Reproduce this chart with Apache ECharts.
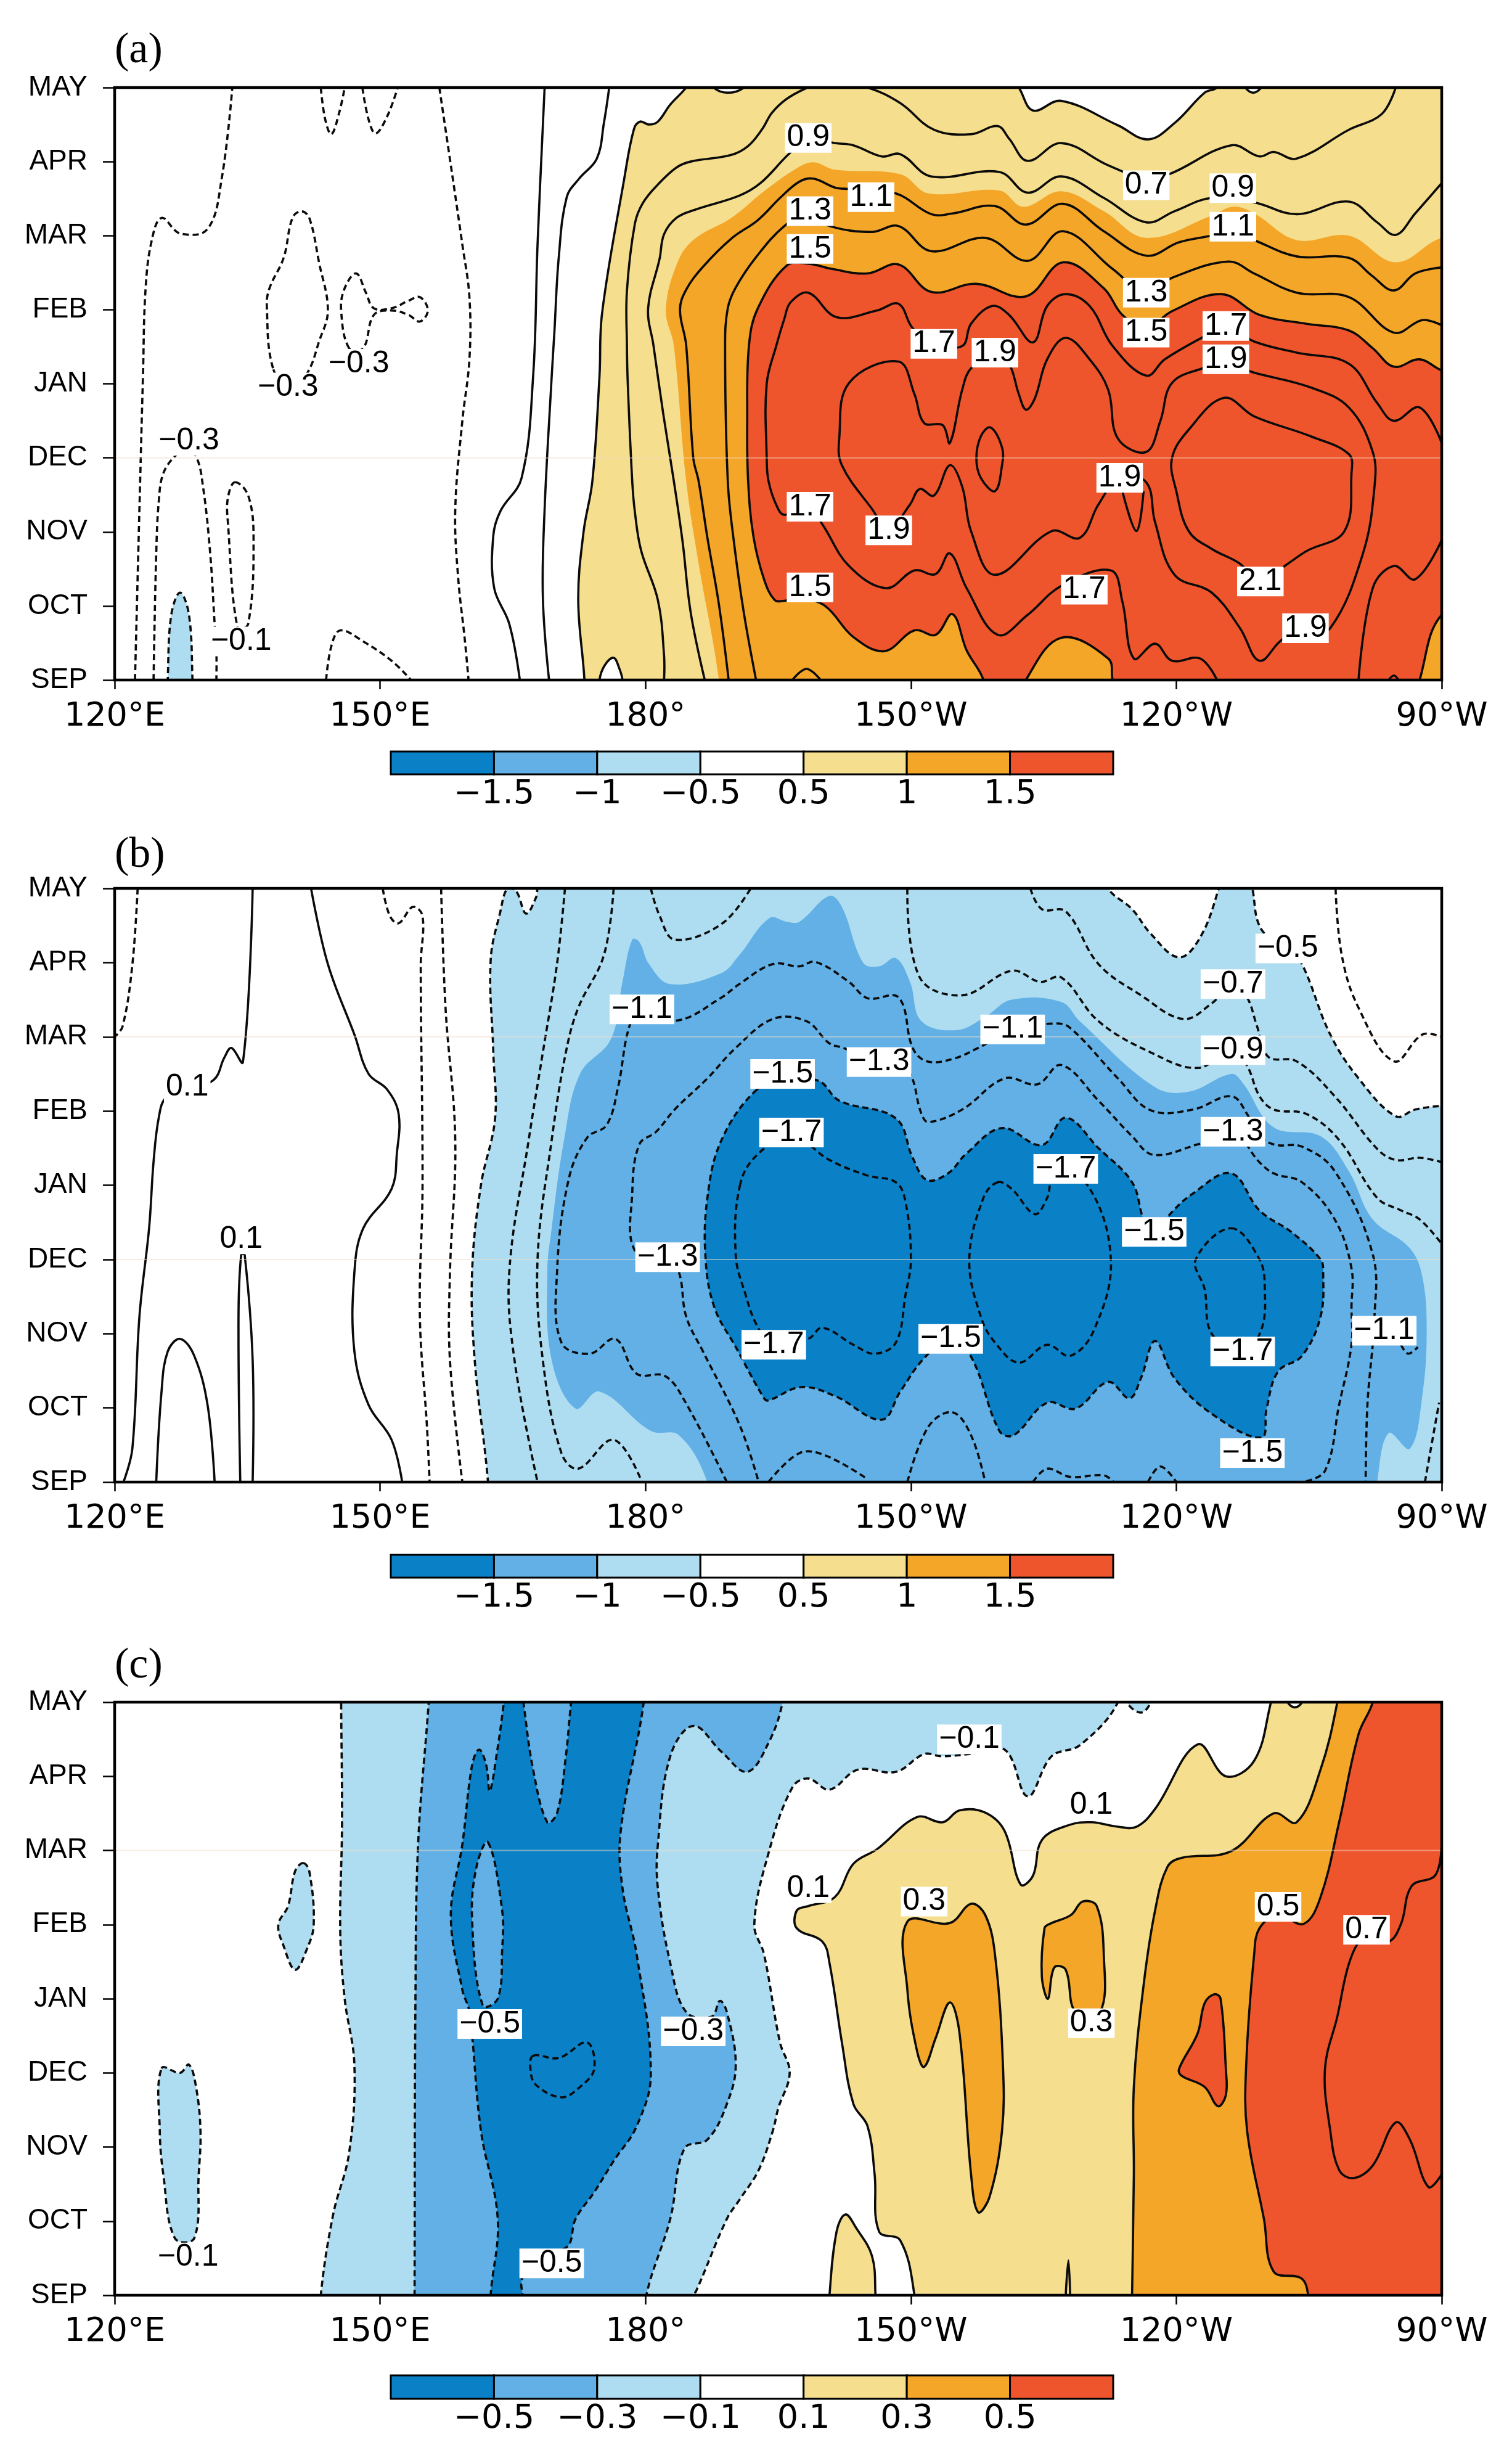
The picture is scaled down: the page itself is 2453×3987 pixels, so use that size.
<!DOCTYPE html>
<html><head><meta charset="utf-8">
<script src="https://cdn.jsdelivr.net/npm/echarts@6/dist/echarts.min.js"></script>
<style>html,body{margin:0;background:#fff}#c{width:2453px;height:3987px}</style></head>
<body><div id="c"></div>
<script>
// ---- tick labels
const xTickLabels=['120°E','150°E','180°','150°W','120°W','90°W'];
const yTickLabels=['SEP','OCT','NOV','DEC','JAN','FEB','MAR','APR','MAY'];
const legendAB=['','−1.5','−1','−0.5','0.5','1','1.5',''];
const legendC=['','−0.5','−0.3','−0.1','0.1','0.3','0.5',''];
// ---- contour data: [longitude in degrees east, months since SEP]
// PANEL A
const aYellow=[[173.1,-.4],[173.1,0],[172.4,1.08],[173,2],[174,2.69],[174.8,4.1],[175.1,4.96],[177.6,6.77],[178.7,7.44],[179.4,7.54],[180.4,7.5],[181.4,7.54],[182.8,7.77],[184.6,8],[185.6,8.2],[186.8,8.2],[187.7,8],[189.3,7.93],[191.1,8],[192,8.2],[221,8.2],[222.2,8],[223.8,7.69],[227,7.82],[233.4,7.49],[236.8,7.3],[239.8,7.52],[243.2,7.93],[244.6,8],[245.5,8.2],[247,8.2],[247.8,8],[248.7,7.93],[249.6,8],[250.5,8.2],[275,8.4],[275,-.4]];
const aHole=[[174.8,-.3],[174.8,0],[175.4,.2],[176.4,.3],[177,.17],[177.4,0],[177.4,-.3]];
const aOrange=[[188.3,-.5],[188.3,0],[186,1.58],[184.6,2.69],[183.2,4.52],[182.3,5],[183.7,5.66],[185.6,5.96],[189.7,6.24],[193.4,6.6],[197.1,6.91],[199,6.99],[201.4,6.89],[208.8,6.83],[212,6.57],[220,6.61],[222.7,6.39],[227,6.6],[231.8,6.33],[236.6,5.97],[244,6.27],[246.4,6.39],[248.8,6.3],[253.6,5.94],[259.5,6],[264.8,5.64],[270,5.97],[275,6],[275,-.5]];
const aRed=[[218.2,-.3],[218.2,0],[216.3,.4],[214.7,.89],[212.8,.61],[210.4,.67],[207,.39],[203.5,.58],[200.3,1],[197.5,1.1],[195.7,1.07],[194.6,1.08],[193.4,1.36],[192.2,1.94],[191.6,2.69],[191.5,3.5],[191.7,4.52],[192.7,5.02],[196,5.6],[198.5,5.62],[201.1,5.55],[205.1,5.49],[208.6,5.61],[212.3,5.24],[217.4,5.35],[223,5.18],[227.2,5.64],[231.8,5.29],[233.9,4.93],[236.6,4.75],[239.5,4.98],[245.1,5.21],[249.4,4.93],[254.7,4.81],[259.5,4.72],[262.2,4.48],[264.6,4.23],[267.5,4.33],[270,4.18],[275,4],[275,1],[270,.88],[267.5,0],[267,-.3],[233.5,-.3],[232.8,0],[232.3,.29],[227,.57],[223,0],[222.5,-.3]];
const aBlue=[[126,-.3],[126,0],[126.4,.88],[127.4,1.18],[128.4,.88],[128.8,0],[128.8,-.3]];
const aNeg1=[[122.3,0],[122.8,2.31],[123.2,4.1],[123.5,5.29],[124.2,5.94],[125.3,6.24],[127.4,6.03],[130.5,6.09],[132.1,6.77],[133.3,8]];
const aNeg2=[[124.4,0],[124.7,1.71],[125,2.43],[125.5,2.79],[126.8,3.02],[128,3.1],[129.2,3.02],[130,2.6],[130.8,1.71],[131.3,.76],[131.5,.4],[131.5,0]];
const aNeg3=[[133.6,2.67],[135.1,2.49],[135.7,1.89],[135.1,.76],[133.9,.7],[132.8,2.13],[132.8,2.46]];
const aNeg4=[[137.9,4.21],[137.2,5.05],[137.5,5.29],[139.1,5.7],[140.1,6.24],[141.1,6.33],[142,6.24],[143.1,5.64],[144.1,4.99],[143.1,4.57],[141.8,4.15],[139.9,3.92]];
const aNeg5=[[146.5,4.48],[145.6,4.99],[146,5.29],[147.3,5.49],[148.4,5.23],[149.3,5.02],[151.3,5.02],[153.2,5.12],[154.5,5.17],[155.4,4.99],[154.5,4.84],[153.2,4.93],[151.3,4.99],[149.3,4.93],[148.1,4.48]];
const aNeg6=[[143.3,8],[143.8,7.57],[144.5,7.37],[145.4,7.67],[146,8]];
const aNeg7=[[148,8],[148.7,7.57],[149.5,7.38],[150.8,7.61],[152,8]];
const aNeg8=[[156.7,8],[158,6.95],[159.3,5.88],[160.1,5.17],[160.1,4.33],[159.3,3.5],[158.5,2.31],[158.8,1.42],[159.6,.52],[160,0]];
const aNeg9=[[143.9,0],[144.5,.46],[145.5,.67],[148.1,.52],[151.3,.26],[153.5,0]];
const aP01=[[168.6,8],[167.8,5.88],[167.3,4.1],[166,2.73],[163.6,2.28],[162.8,1.95],[162.9,1.24],[164.6,.76],[165.8,0]];
const aP03=[[169.1,0],[168.4,1.12],[168.6,2.31],[169.4,4.1],[169.7,4.69],[170.2,5.71],[171.1,6.52],[172.5,6.77],[174.5,7.04],[175.3,7.52],[175.9,8]];
const aP07=[[182.1,0],[182.1,.33],[181.4,1.08],[179.5,1.75],[178.8,2.27],[178.5,2.69],[178,4],[177.9,4.52],[177.9,5.25],[178.8,6.16],[179.7,6.44],[181.4,6.69],[183.5,6.92],[185.1,7],[189.7,7.09],[191.6,7.21],[193.2,7.44],[194.3,7.66],[196,7.85],[198.3,8],[200.5,8.1],[205.1,8],[208.8,7.79],[212.6,7.43],[216.8,7.37],[219.8,7.48],[221.1,7.31],[223.2,7.01],[227,7.25],[232.3,6.95],[236.6,6.77],[239.2,6.83],[246.2,7.22],[249.4,7.07],[251,7.13],[253.6,7.04],[259.5,7.43],[263.2,7.64],[264.8,8]];
const aP09=[[186.7,0],[185.1,.92],[184.2,1.86],[183.2,2.69],[182,3.6],[180.9,4.52],[180.3,5.02],[181.6,5.69],[182.1,6.02],[183.5,6.24],[185.6,6.35],[190.6,6.54],[193,6.71],[196.1,7.09],[198.4,7.32],[201.4,7.25],[203.5,7.22],[206.7,7.07],[208.8,7.1],[212.3,6.8],[220,6.86],[223.2,6.58],[227,6.8],[231.8,6.51],[236.6,6.18],[239.8,6.33],[244,6.51],[248.8,6.45],[253.6,6.29],[259.5,6.46],[262.7,6.18],[264.8,6.01],[267,6.3],[270,6.71]];
const aP11=[[189.4,0],[188.3,1.02],[187,1.92],[186,2.69],[185.4,3],[184.6,4.52],[183.9,5],[184.6,5.27],[186.5,5.58],[189.7,5.96],[192.7,6.21],[195.3,6.52],[197.4,6.73],[199,6.77],[201.4,6.65],[203,6.63],[208.3,6.57],[212.3,6.29],[214.7,6.3],[219.5,6.4],[223,6.15],[227.2,6.43],[231.8,6.06],[236.6,5.73],[240.3,5.91],[244,6],[246.4,6.06],[248.8,5.94],[253.6,5.72],[259.5,5.7],[262.1,5.46],[264.6,5.26],[267,5.49],[270,5.57]];
const aP13=[[192.5,0],[191.1,.92],[190,1.86],[189.3,2.69],[189,4.52],[189.3,5.02],[190.2,5.3],[192.5,5.71],[195.7,6.13],[198.4,6.3],[200.8,6.13],[205.6,6.05],[208.6,6.13],[212.3,5.79],[218.4,5.97],[223.2,5.66],[227.2,6.06],[232.8,5.55],[236.6,5.23],[239.5,5.43],[245.9,5.65],[248.8,5.49],[253.6,5.23],[259.5,5.17],[264.6,4.69],[267.8,4.86],[270,4.79]];
const aP13b=[[196.6,0],[198.2,.15],[199.8,0]];
const aP17=[[244.6,0],[242.7,.29],[239.5,.26],[237.6,.49],[235.2,.29],[233.9,1.06],[232.6,1.48],[227,1.27],[223.2,.88],[219.8,.61],[216.3,1.24],[214.4,1.71],[212.8,1.43],[210.4,1.48],[207.2,1.24],[203,1.54],[200,2.1],[198.4,2.34],[195.7,2.23],[194.8,2.36],[193.9,2.69],[193.7,3],[193.7,4],[194.8,4.52],[195.7,4.88],[196.4,5.1],[198.4,5.23],[201.6,4.9],[206.2,4.99],[208.6,5.08],[210.2,4.75],[212.6,4.54],[215.8,4.51],[216.8,4.81],[219.2,5.05],[221.1,4.93],[223.8,4.56],[225.4,5.05],[227.5,5.21],[230.2,5.05],[232.8,4.51],[236.6,4.11],[238.7,4.33],[243,4.63],[245.6,4.78],[248.8,4.57],[253.6,4.42],[259.5,4.27],[262.7,3.74],[264.6,3.5],[267.5,3.68],[270,3.2]];
const aP17b=[[260.6,0],[262.2,1.24],[264.6,1.54],[267,1.36],[270,1.89]];
const aP17c=[[264,0],[264.6,.06],[265.1,0]];
const aP19=[[245.6,4.27],[248.8,4.15],[255.2,3.95],[259.5,3.68],[262.2,3.08],[262.4,2.61],[261.1,1.71],[257.4,.7],[254.7,.67],[252,.55],[249.4,.26],[247.2,.7],[244,1.18],[239.8,1.42],[237.6,2.13],[236.6,2.67],[233.6,2.73],[231.2,2.37],[229.1,1.92],[225.9,2.01],[219.5,1.42],[216.8,2.01],[215.8,2.61],[214.4,2.9],[212.6,2.49],[211,2.58],[209.9,2.37],[207.5,2.04],[205.6,2.31],[202.2,2.9],[201.9,3.26],[203,4.01],[208.6,4.3],[210.4,3.86],[211.5,3.47],[213.6,3.44],[214.4,3.2],[215.8,3.92],[216.8,4.21],[219.5,4.42],[221.1,4.27],[222.2,3.86],[223,3.65],[224,3.8],[225.4,4.33],[227.5,4.62],[230.2,4.33],[232.3,3.92],[233.4,3.26],[236.6,3.08],[238.2,3.5],[239.5,4.01],[243,4.21]];
const aP19b=[[233.9,2.55],[235.5,2.01],[236.3,2.55]];
const aP21=[[245.4,3.81],[248.8,3.56],[255.2,3.29],[259.5,3.05],[259.8,2.79],[259,2.01],[254.7,1.74],[252.6,1.57],[249.4,1.33],[247.2,1.57],[244,1.77],[241.4,2.01],[240,2.55],[239.5,2.99],[241.4,3.38]];
const aP21b=[[219,3.41],[220.3,3.14],[220.3,2.9],[219.5,2.55],[217.9,2.73],[217.4,2.99],[217.9,3.29]];
const aLabels=[[198.4,7.32,'0.9'],[198.6,6.33,'1.3'],[198.6,5.82,'1.5'],[205.5,6.52,'1.1'],[236.6,6.68,'0.7'],[246.4,6.64,'0.9'],[246.4,6.12,'1.1'],[236.6,5.23,'1.3'],[236.6,4.69,'1.5'],[245.6,4.78,'1.7'],[245.6,4.33,'1.9'],[212.6,4.54,'1.7'],[219.5,4.42,'1.9'],[198.6,2.34,'1.7'],[207.5,2.02,'1.9'],[233.6,2.73,'1.9'],[198.6,1.25,'1.5'],[229.6,1.22,'1.7'],[249.5,1.33,'2.1'],[254.6,.7,'1.9'],[128.4,3.23,'−0.3'],[139.6,3.95,'−0.3'],[147.6,4.27,'−0.3'],[134.3,.52,'−0.1']];
// PANEL B
const bLight=[[162.2,-.5],[162.2,0],[160.7,1.64],[160.4,2.82],[161.4,4],[163,4.9],[162.8,5.79],[162.5,7.03],[163.6,7.69],[164.4,8],[165.4,7.96],[166.5,7.66],[167.6,7.87],[167.8,8],[168.5,8.4],[231.5,8.4],[232.3,8],[235,7.72],[237.1,7.39],[240.3,7.07],[242.7,7.34],[244.8,8],[245.5,8.4],[248,8.4],[248.6,8],[249.6,7.45],[252.6,7.19],[254.2,6.98],[257.4,6.03],[260.6,5.44],[264.8,4.93],[267,5.02],[270,5.07],[275,5.1],[275,-.5]];
const bMedium=[[187,-.4],[187,0],[183.8,.63],[180.6,.69],[174.8,1.22],[172.1,.99],[169.4,1.64],[168.9,2.82],[169.4,3.42],[170.8,4.61],[172.6,5.5],[176.1,5.97],[177.4,6.74],[178.5,7.31],[179.3,7.28],[180.4,6.98],[182.8,6.71],[188.6,6.86],[190.6,7.1],[194,7.6],[196,7.55],[197.4,7.55],[200.8,7.9],[202.2,7.75],[204.6,7],[206.4,6.95],[208.3,7.06],[209.9,6.74],[211.2,6.21],[215.2,6.09],[218.4,6.27],[221.4,6.5],[227,6.47],[229.1,6.21],[237.6,5.32],[241.4,5.26],[246.2,5.5],[247.5,5.38],[251,4.78],[256.3,4.66],[259.5,4.19],[262.2,3.54],[266.4,3.15],[267.8,2.77],[268.3,2.05],[267.8,1.16],[266.4,.45],[264,.66],[262.7,0],[262.5,-.4]];
const bDark=[[192.6,5.29],[188.6,4.61],[187,3.83],[186.8,3],[187.8,2.35],[190.2,1.82],[193.4,1.13],[193.9,1.1],[197.6,1.28],[201.4,1.16],[206.7,.84],[208.8,1.22],[211.5,1.67],[214.4,1.93],[216.8,1.69],[220,.69],[221.6,.63],[225.4,1.07],[228.6,.99],[232.3,1.35],[234.7,1.13],[236,1.4],[237.6,1.9],[239.8,1.4],[244,.92],[249.6,.6],[250.2,.99],[251.5,1.49],[254.2,1.7],[256.3,2.23],[256.6,2.82],[256.3,3],[253.1,3.36],[249.4,3.66],[246.2,4.16],[241.9,3.89],[239,3.57],[237.6,3.3],[236.3,3.54],[235,4.04],[231.2,4.5],[227.5,4.91],[224.8,4.54],[220.3,4.77],[216.3,4.43],[214.2,4.16],[211.8,4.07],[210.2,4.37],[208.3,4.9],[201.9,5.14],[199.5,5.41],[195.5,5.38]];
const bP01a=[[121,0],[122,.45],[122.8,2.23],[123.9,3.43],[124.4,4.32],[125,4.92],[125.8,5.18],[128.2,5.3],[131.2,5.42],[132.4,5.72],[133.2,5.85],[134.5,5.66],[135.6,8]];
const bP01b=[[124.7,0],[125.3,1.22],[126,1.76],[127.4,1.93],[129,1.7],[130.5,1.04],[131.3,0]];
const bP01c=[[134.2,0],[134,2.23],[134.3,3.06],[134.7,3.06],[135.6,1.64],[135.6,0]];
const bP01d=[[142.2,8],[144.1,6.98],[147.1,6.03],[148.7,5.5],[150.8,5.29],[152.1,4.96],[151.9,4.43],[151.3,3.95],[148.1,3.42],[147.1,2.83],[147.1,1.76],[148.7,1.04],[151.3,.57],[152.5,0]];
const bN1=[[122.6,8],[122,6.97],[120.9,6.14],[120,6]];
const bN2=[[150.3,8],[151.1,7.63],[152.1,7.53],[153.7,7.75],[154.8,7.63],[154.6,6.97],[154.8,4],[154.5,2.23],[155.3,.75],[155.6,0]];
const bN3=[[156.9,8],[157.4,6.39],[158.5,4.6],[157.9,2.82],[157.9,1.64],[159.3,0]];
const bN07a=[[170.9,8],[170,6.98],[168.4,5.79],[166.8,4.61],[164.6,2.82],[165.2,1.64],[167.8,0]];
const bN09a=[[176.4,8],[175.3,7.1],[172.4,6.39],[171,5.79],[169.4,4.61],[167.8,3],[168.4,1.64],[170.5,.39],[172.4,.18],[176.4,.57],[179.6,0]];
const bN09b=[[180.6,8],[181.6,7.63],[183.3,7.31],[188.6,7.52],[191.9,8]];
const bN09c=[[209.6,8],[211,6.8],[215.8,6.56],[221.4,6.89],[224.6,6.74],[227,6.8],[231.2,6.21],[237.1,5.79],[242.4,5.58],[246.4,5.82],[248,5.61],[249.4,5.2],[251,5.02],[254.7,4.96],[258.4,4.61],[262.7,3.83],[265.4,3.66],[267.5,3.54],[270,3.21]];
const bN07b=[[223.5,8],[224.8,7.72],[227.5,7.69],[231.2,6.98],[236,6.56],[240.8,6.24],[244,6.45],[246.4,6.71],[248,6.53],[249.1,6.15],[250.4,5.73],[253.6,5.67],[257.9,5.2],[262.7,4.49],[264.8,4.34],[267.5,4.37],[270,4.31]];
const bN03=[[258,8],[258.7,7.1],[260.6,6.39],[264.6,5.67],[267.8,6.03],[270,6]];
const bN11=[[189.2,0],[184.4,1.1],[182.2,1.43],[179,1.46],[176.6,1.93],[173.7,1.73],[170.5,1.88],[170,2.82],[171.3,4.07],[173.4,4.64],[175.6,4.81],[176.9,5.32],[178.2,6.15],[179.6,6.36],[183.6,6.22],[188.6,6.53],[190.6,6.71],[194.4,6.98],[197.4,6.95],[199.2,7.01],[203,6.74],[205.1,6.52],[208.6,6.53],[210.2,5.85],[211.8,5.67],[214.7,5.7],[217.6,5.85],[221.6,6.09],[226.2,6.18],[228,6.12],[233.4,5.44],[237.1,5.01],[241.9,5.02],[246.2,5.2],[248,4.96],[248.8,4.73],[251,4.55],[254.2,4.52],[257.9,4.19],[262.2,3.07],[262.4,2.23],[261.6,1.04],[261.4,0]];
const bN13=[[192.7,.04],[190.6,.78],[186.5,1.76],[184.6,2.23],[183.8,2.82],[182.5,3.03],[178.8,3.12],[178.5,3.89],[179.3,4.55],[181.2,4.72],[183.3,5.02],[187,5.44],[190.2,5.85],[194.4,6.24],[198.2,6.21],[200.8,5.91],[202.4,5.85],[206.4,5.64],[209.6,5.55],[211.2,4.96],[212,4.85],[215.8,5.02],[220.6,5.44],[224.3,5.36],[227,5.62],[231.2,5.14],[235,4.66],[237.4,4.41],[242.4,4.55],[246.4,4.71],[249.4,4.31],[251,4.16],[254.2,4.04],[257.9,3.54],[259.8,2.88],[259.8,2.35],[259.8,1.85],[258.4,1.04],[256.8,.15],[254.2,0]];
const bH1=[[193.9,0],[197.4,.39],[200.3,.36],[205.1,.04]];
const bH2=[[209.6,0],[212,.75],[214.7,.94],[216.8,.63],[218.4,0]];
const bH3=[[223.8,0],[225.4,.18],[228,.07],[231.8,.09],[232.9,0]];
const bH4=[[236.8,0],[238.2,.21],[240,0]];
const bH5=[[268.1,0],[269.7,1.07]];
const bH6=[[265.4,1.85],[266.2,1.73],[267.3,1.82]];
const bN17a=[[190.7,4.01],[190.2,3.06],[191.3,2.53],[192.6,2.11],[194.4,1.85],[198.4,1.93],[200,2.08],[203.5,1.85],[205.9,1.73],[208.3,1.88],[209.4,2.53],[210,3],[209.4,3.77],[208.3,4.04],[205.1,4.13],[200.8,4.34],[196.6,4.66],[192.8,4.43]];
const bN17b=[[219.8,4.04],[221.4,3.95],[224,3.61],[225.4,3.83],[226.2,4.13],[229.9,4.01],[232.6,3],[230.7,2.05],[228,1.7],[225.4,1.85],[222.2,1.61],[219.5,1.88],[217.9,2.23],[216.6,3],[218.2,3.83]];
const bN17c=[[246.2,3.42],[249.4,3],[250,2.6],[249.6,2.05],[247.5,1.76],[244,2],[243.2,2.6],[242.2,3]];
const bLabels=[[128.2,5.32,'0.1'],[134.3,3.27,'0.1'],[179.6,6.37,'−1.1'],[182.5,3.03,'−1.3'],[195.5,5.5,'−1.5'],[196.5,4.71,'−1.7'],[194.5,1.85,'−1.7'],[206.4,5.66,'−1.3'],[221.5,6.1,'−1.1'],[227.5,4.22,'−1.7'],[237.5,3.37,'−1.5'],[214.5,1.93,'−1.5'],[247.5,1.76,'−1.7'],[248.6,.39,'−1.5'],[263.5,2.04,'−1.1'],[252.6,7.19,'−0.5'],[246.4,6.71,'−0.7'],[246.4,5.82,'−0.9'],[246.4,4.72,'−1.3']];
// PANEL C
const cLight=[[143.3,-.5],[143.3,0],[144.7,1.09],[146.5,1.92],[147.1,3.1],[146,4],[145.5,4.9],[145.7,6.37],[145.6,8],[145.6,8.5],[233.6,8.5],[233.4,8],[229.1,7.42],[225.9,7.27],[223.2,6.73],[220.6,7.36],[216.6,7.3],[213.4,7.27],[211.5,7.3],[208.3,7.06],[204,7.09],[200.8,6.82],[198.4,6.97],[196.6,6.85],[193.9,5.96],[192.3,5],[193.4,4.6],[195.2,3.41],[196.3,3],[195,2.52],[194.4,2.22],[192.8,1.69],[190.7,1.3],[189.2,1.03],[185.7,.05],[185.3,0],[185.2,-.5]];
const cLightNotch=[[234.4,8.2],[234.4,8],[236,7.86],[237.1,8],[237.1,8.2]];
const cLobe1=[[141.3,5.83],[142,5.72],[142.5,5],[141.7,4.66],[140.4,4.39],[139.1,4.71],[138.5,5],[139.6,5.25],[140.4,5.72]];
const cLobe2=[[125.3,3.06],[127.4,3],[128.4,3.11],[129.2,2.81],[129.7,2.22],[129.5,1.63],[129,.77],[126.8,.77],[125.5,1.63],[125.1,2.22]];
const cMedium=[[153.9,-.5],[153.9,0],[154,4],[154.3,6.08],[155.5,8],[155.7,8.5],[195.8,8.5],[195.5,8],[193.9,7.45],[191.5,7.06],[188.6,7.33],[185.4,7.68],[182.8,7.27],[181.4,6.08],[181.4,5.49],[182.8,4.48],[184.6,3.82],[187.5,3.76],[188.4,3.97],[189.2,3.82],[190.2,3.11],[189.2,2.58],[187,2.1],[184.4,1.98],[182.8,1.03],[180.1,0],[180,-.5]];
const cDark=[[162.5,-.4],[162.5,0],[163.3,1.03],[161.4,2.22],[160.1,3.82],[159.3,4.12],[158,5.13],[159.3,6.08],[160.4,7.15],[161.2,7.36],[162,7.15],[162.4,6.8],[163.3,7.39],[164,8],[164.3,8.3],[165.9,8.3],[166.2,8],[167.3,7.09],[168.9,6.38],[170,6.5],[171,7.27],[171.6,8],[172,8.3],[179.5,8.3],[179.8,8],[177.2,6.26],[177.4,5.49],[179,4.6],[180.6,2.99],[179,2.28],[176.4,1.81],[174.2,1.39],[172.1,1.03],[171.1,.65],[167.3,.56],[166,.2],[166.1,0],[166.1,-.4]];
const cLens=[[162.2,6.11],[163.8,5.19],[163.8,4.66],[163.3,4],[161.6,3.91],[160.4,5.07],[160.9,5.78]];
const cHeart=[[167.3,3.23],[170.2,3.2],[173.4,3.41],[174.2,3.05],[172.6,2.81],[170.5,2.67],[167.6,2.84],[167,3.05]];
const cYellow=[[210.4,-.5],[210.4,0],[208.8,.74],[206.4,.86],[205.9,1.63],[205.1,2.28],[203.5,2.58],[202.2,3.41],[200.8,4.48],[200,4.77],[197.1,4.95],[197.1,5.19],[198.4,5.25],[201.4,5.37],[203.5,5.82],[206.2,6.02],[210.7,6.45],[213.6,6.38],[215.5,6.54],[218.4,6.51],[220.6,6.26],[222.4,5.54],[223.8,5.66],[224.8,6.14],[227.8,6.34],[230.4,6.38],[233.4,6.32],[235.5,6.32],[237.6,6.56],[242.4,7.43],[245.6,7],[248.8,7.21],[250.7,8],[251.2,8.3],[252.2,8.3],[252.6,8],[253.4,7.93],[254.2,8],[254.8,8.3],[275,8.5],[275,-.5]];
const cYellow2=[[200.8,-.3],[200.8,0],[201.6,.86],[202.6,1.09],[203.8,.91],[205.6,.53],[206,0],[206,-.3]];
const cOrangeA=[[209.6,5.04],[209.6,4.12],[210.7,3.29],[211.5,3.08],[212.8,3.47],[214.4,3.95],[215.5,3.53],[216.8,1.63],[217.6,1.12],[218.9,1.33],[220.3,2.22],[220.4,3.11],[219.5,4.6],[218.4,5.13],[216.8,5.28],[214.4,5.02]];
const cOrangeB=[[225.1,4.95],[224.8,4.3],[225.5,4],[226.2,4.42],[227.5,4.39],[228.6,3.82],[231.4,3.82],[231.8,4.6],[231,5.25],[229.4,5.31],[228.1,5.13],[225.7,5.01]];
const cOrange=[[235,-.4],[235,0],[235.2,1.63],[235.2,2.81],[236.3,4.18],[237.6,5.19],[239,5.78],[240.6,5.9],[246.2,5.99],[251,6.5],[253.6,6.38],[256.3,7.09],[258.2,8],[258.5,8.4],[275,8.5],[275,-.4]];
const cRed=[[254.9,-.4],[254.9,0],[254.1,.23],[251,.32],[249.9,1.03],[248,2.22],[247.9,3.11],[248.8,4.6],[249.4,4.95],[251.5,5.13],[254.4,5.01],[256.3,5.37],[258.4,6.38],[260.6,7.57],[262.2,8],[262.5,8.4],[275,8.5],[275,-.4]];
const cRedIsland=[[244.3,4.06],[245,4],[245.6,3.05],[245.6,2.7],[244.7,2.55],[243.2,2.81],[240.6,2.96],[240.3,3.05],[242.4,3.53],[243.2,3.94]];
const cP07=[[270,6.14],[269.3,5.67],[266.6,5.52],[265.4,5.01],[264,4.77],[261.5,4.85],[259.7,4.54],[258.2,3.76],[256.8,3.05],[257.4,2.22],[258.4,1.69],[260,1.58],[262.2,1.75],[264.8,2.33],[266.4,2.1],[268.5,1.46],[270,1.63]];
const cSpike=[[227.5,0],[227.8,.47],[228,0]];
const cLabels=[[128.3,.51,'−0.1'],[162.4,3.66,'−0.5'],[185.4,3.56,'−0.3'],[169.4,.43,'−0.5'],[216.6,7.5,'−0.1'],[230.4,6.61,'0.1'],[198.4,5.49,'0.1'],[211.5,5.31,'0.3'],[230.4,3.67,'0.3'],[251.5,5.24,'0.5'],[261.5,4.93,'0.7']];
// faint horizontal rules in each panel, at these month positions
const aRules=[3], bRules=[3,6], cRules=[6];

// ---- styles
const BLUE3='#0a80c7',BLUE2='#62b0e5',BLUE1='#aeddf1',YEL='#f5de8d',ORG='#f4a628',RED='#ee552c';
const barColors=[BLUE3,BLUE2,BLUE1,'#ffffff',YEL,ORG,RED];
const SM=0.38, LW=3.6, DASH=[10,6];
const AXIS_FONT='"DejaVu Sans"', MONTH_FONT='"Liberation Sans"';

function drawStyle(kind,fill){
  const s={fill:fill||'none'};
  if(kind){s.stroke='#0b0b0b';s.lineWidth=LW;if(kind==='dash')s.lineDash=DASH;}
  return s;
}
function shapeSeries(g,pts,type,fill,kind,z){
  return {type:'custom',xAxisIndex:g,yAxisIndex:g,coordinateSystem:'cartesian2d',clip:true,silent:true,animation:false,z:z,
    encode:{x:0,y:1},data:pts,
    renderItem(params,api){
      if(params.dataIndex!==0)return null;
      return {type:type,shape:{points:pts.map(p=>api.coord(p)),smooth:SM},style:drawStyle(kind,fill)};
    }};
}
const poly=(g,pts,fill,kind)=>shapeSeries(g,pts,'polygon',fill,kind,2);
const line=(g,pts,kind)=>shapeSeries(g,pts,'polyline',null,kind,3);
const loop=(g,pts,kind)=>shapeSeries(g,pts,'polygon',null,kind,3);

function labelSeries(g,labels){
  return {type:'scatter',xAxisIndex:g,yAxisIndex:g,symbol:'circle',symbolSize:1,itemStyle:{color:'rgba(0,0,0,0)',opacity:1},silent:true,z:5,animation:false,
    data:labels.map(l=>({value:[l[0],l[1]],name:l[2]})),
    label:{show:true,position:'inside',formatter:'{b}',fontFamily:'"Liberation Sans"',fontSize:50,color:'#000',opacity:1,backgroundColor:'#fff',padding:[1,3,0,3],lineHeight:47},
    labelLayout:{hideOverlap:false}};
}
function ruleSeries(g,rows){
  return rows.map(r=>({type:'line',xAxisIndex:g,yAxisIndex:g,data:[[120,r],[270,r]],symbol:'none',silent:true,animation:false,z:4,
    lineStyle:{color:'rgba(240,220,200,0.5)',width:2}}));
}
function frameSeries(g){
  return {type:'custom',xAxisIndex:g,yAxisIndex:g,silent:true,animation:false,z:6,encode:{x:0,y:1},data:[[120,0]],
    renderItem(p,api){const a=api.coord([120,8]),b=api.coord([270,0]);
      return {type:'rect',shape:{x:a[0],y:a[1],width:b[0]-a[0],height:b[1]-a[1]},style:{fill:'none',stroke:'#000',lineWidth:4.5}};}};
}
function barSeries(g){
  return {type:'custom',xAxisIndex:g,yAxisIndex:g,silent:true,animation:false,z:3,encode:{x:0,y:1},data:barColors.map((c,i)=>[i,1]),
    renderItem(p,api){const i=api.value(0),a=api.coord([i,1]),b=api.coord([i+1,0]);
      return {type:'rect',shape:{x:a[0],y:a[1],width:b[0]-a[0],height:b[1]-a[1]},style:{fill:barColors[i],stroke:'#000',lineWidth:3}};}};
}
const plots=[{top:142,h:961},{top:1441,h:963},{top:2761,h:962}];
const bars=[{top:1219,h:37,l:legendAB},{top:2522,h:37,l:legendAB},{top:3853,h:38,l:legendC}];
const grids=[],xs=[],ys=[];
plots.forEach(p=>{
  grids.push({left:186,top:p.top,width:2153,height:p.h});
  xs.push({type:'value',gridIndex:grids.length-1,min:120,max:270,interval:30,z:7,splitLine:{show:false},
    axisLine:{show:false},axisTick:{show:true,length:15,lineStyle:{color:'#000',width:2.5}},
    axisLabel:{margin:33,fontFamily:AXIS_FONT,fontSize:54,color:'#000',formatter:v=>xTickLabels[(v-120)/30]}});
  ys.push({type:'value',gridIndex:grids.length-1,min:0,max:8,interval:1,z:7,splitLine:{show:false},
    axisLine:{show:false},axisTick:{show:true,length:19,lineStyle:{color:'#000',width:2.5}},
    axisLabel:{margin:44,fontFamily:MONTH_FONT,fontSize:46,color:'#000',formatter:v=>yTickLabels[v]}});
});
bars.forEach(b=>{
  grids.push({left:634,top:b.top,width:1172,height:b.h});
  xs.push({type:'value',gridIndex:grids.length-1,min:0,max:7,interval:1,splitLine:{show:false},axisLine:{show:false},axisTick:{show:false},
    axisLabel:{margin:6,fontFamily:AXIS_FONT,fontSize:54,color:'#000',showMinLabel:true,showMaxLabel:true,formatter:v=>b.l[v]}});
  ys.push({type:'value',gridIndex:grids.length-1,min:0,max:1,show:false});
});
const series=[
  // a
  poly(0,aBlue,BLUE1,'dash'),poly(0,aYellow,YEL,'solid'),poly(0,aHole,'#fff','solid'),poly(0,aOrange,ORG,null),poly(0,aRed,RED,'solid'),
  ...[aNeg1,aNeg2,aNeg6,aNeg7,aNeg8,aNeg9].map(p=>line(0,p,'dash')),
  ...[aNeg3,aNeg4,aNeg5].map(p=>loop(0,p,'dash')),
  ...[aP01,aP03,aP07,aP09,aP11,aP13,aP13b,aP17,aP17b,aP17c,aP19b].map(p=>line(0,p,'solid')),
  ...[aP19,aP21,aP21b].map(p=>loop(0,p,'solid')),
  ...ruleSeries(0,aRules),labelSeries(0,aLabels),frameSeries(0),
  // b
  poly(1,bLight,BLUE1,'dash'),poly(1,bMedium,BLUE2,null),poly(1,bDark,BLUE3,'dash'),
  ...[bP01a,bP01b,bP01c,bP01d].map(p=>line(1,p,'solid')),
  ...[bN1,bN2,bN3,bN07a,bN09a,bN09b,bN09c,bN07b,bN03,bN11,bN13,bH1,bH2,bH3,bH4,bH5,bH6].map(p=>line(1,p,'dash')),
  ...[bN17a,bN17b,bN17c].map(p=>loop(1,p,'dash')),
  ...ruleSeries(1,bRules),labelSeries(1,bLabels),frameSeries(1),
  // c
  poly(2,cLight,BLUE1,'dash'),poly(2,cLightNotch,BLUE1,'dash'),poly(2,cLobe1,BLUE1,'dash'),poly(2,cLobe2,BLUE1,'dash'),
  poly(2,cMedium,BLUE2,'dash'),poly(2,cDark,BLUE3,'dash'),poly(2,cLens,BLUE2,'dash'),loop(2,cHeart,'dash'),
  poly(2,cYellow,YEL,'solid'),poly(2,cYellow2,YEL,'solid'),poly(2,cOrange,ORG,'solid'),poly(2,cOrangeA,ORG,'solid'),poly(2,cOrangeB,ORG,'solid'),
  poly(2,cRed,RED,'solid'),poly(2,cRedIsland,RED,'solid'),line(2,cP07,'solid'),line(2,cSpike,'solid'),
  ...ruleSeries(2,cRules),labelSeries(2,cLabels),frameSeries(2),
  // colour bars
  barSeries(3),barSeries(4),barSeries(5)
];
const panelTitle=(t,top)=>({text:t,left:186,top:top,textStyle:{fontFamily:'"Liberation Serif"',fontSize:70,fontWeight:'normal',color:'#000'},padding:0});
const chart=echarts.init(document.getElementById('c'),null,{renderer:'canvas'});
chart.setOption({animation:false,backgroundColor:'#fff',
  title:[panelTitle('(a)',48),panelTitle('(b)',1353),panelTitle('(c)',2668)],
  grid:grids,xAxis:xs,yAxis:ys,series:series});
</script></body></html>
